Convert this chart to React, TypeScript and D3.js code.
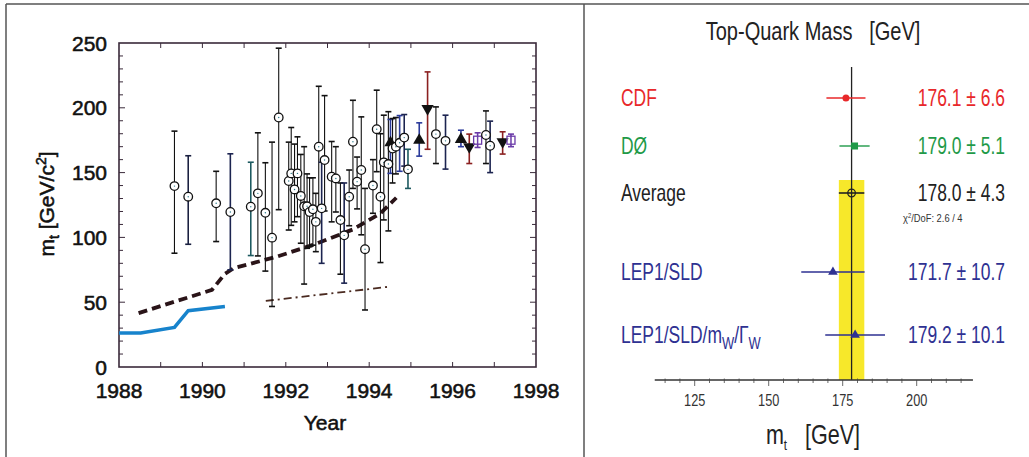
import React, { useEffect, useRef } from "react";
import * as d3 from "d3";

// ---- left panel: top mass measurements / limits vs year ----
const years = [
  1989.33, 1989.66, 1990.33, 1990.67, 1991.16, 1991.33, 1991.51, 1991.67, 1991.83,
  1992.07, 1992.13, 1992.21, 1992.28, 1992.36, 1992.44, 1992.51, 1992.57, 1992.65,
  1992.72, 1992.79, 1992.86, 1992.93, 1993.1, 1993.2, 1993.31, 1993.4, 1993.52,
  1993.61, 1993.71, 1993.81, 1993.9, 1994.09, 1994.18, 1994.27, 1994.35, 1994.46,
  1994.51, 1994.56, 1994.64, 1994.73, 1994.84, 1994.93, 1995.2, 1995.4, 1995.6,
  1995.83, 1996.2, 1996.4, 1996.6, 1996.8, 1996.9, 1997.2, 1997.4,
];
const masses = [
  139.6, 131.4, 126.3, 119.6, 123.7, 134, 119, 99.8, 192.5,
  143.5, 149.4, 137, 149.4, 132, 124, 124, 119.6, 121.7,
  112, 170, 122.4, 159.7, 146.8, 145.5, 113.4, 101.6, 131.4,
  173.8, 143, 152, 90.9, 140, 183.5, 131.4, 157.9, 156.6,
  173, 168.6, 170, 173, 177, 152.5, 175, 199.4, 179.7,
  174.5, 175.6, 170, 175, 179, 170.7, 173.8, 175,
];
const errHigh = [
  182, 163, 151, 164.5, 158, 180.7, 157.6, 173.5, 246,
  173.5, 184.8, 172, 177.6, 164, 170, 149, 146, 146,
  134, 216.6, 158, 209.4, 174, 170, 142, 142, 152,
  205.8, 162, 193, 137.8, 160, 213.6, 180, 194.3, 197,
  191, 191.7, 192.5, 194, 194.8, 168, 188.4, 227.7, 200.7,
  194.3, 182.7, 179.7, 180.7, 197.6, 189.7, 181.5, 179.7,
];
const errLow = [
  87.8, 94.7, 96.8, 75, 86, 85.7, 74, 46.7, 121.4,
  105.7, 109.3, 112, 116, 95.5, 64, 91.6, 93, 94,
  89, 121.7, 80, 120.4, 112, 119.6, 71.6, 64.7, 109,
  137.8, 122, 102, 44, 118.6, 150.7, 80.6, 113.5, 105,
  149.4, 142, 149, 151, 155, 137.8, 162.7, 168, 157,
  152.7, 170, 157, 169.4, 157, 150, 164.3, 170,
];
// o = open circle, u = triangle up, d = triangle down, s = open square
const markers = [
  "o", "o", "o", "o", "o", "o", "o", "o", "o",
  "o", "o", "o", "o", "o", "o", "o", "o", "o",
  "o", "o", "o", "o", "o", "o", "o", "o", "o",
  "o", "o", "o", "o", "o", "o", "o", "o", "o",
  "u", "o", "o", "o", "o", "o", "u", "d", "o",
  "o", "u", "d", "s", "o", "o", "d", "s",
];
const barColors = [
  "#111", "#1a2040", "#111", "#1c2450", "#1d5a60", "#111", "#111", "#111", "#111",
  "#111", "#111", "#111", "#111", "#111", "#111", "#111", "#111", "#111",
  "#111", "#111", "#1c2450", "#111", "#111", "#111", "#111", "#1c2450", "#111",
  "#111", "#111", "#111", "#111", "#111", "#111", "#111", "#111", "#111",
  "#2a3a9a", "#111", "#111", "#2a3a9a", "#1c2450", "#1d5a60", "#2a3a9a", "#8b2020", "#111",
  "#1c2450", "#2a3a9a", "#8b2020", "#6a3aa8", "#111", "#1c2450", "#8b2020", "#6a3aa8",
];

// lower limits (curves)
const limitBlueYears = [1988, 1988.52, 1989.33, 1989.66, 1990.54];
const limitBlueMass = [26.2, 26.2, 30.5, 43.4, 46.7];
const limitDashYears = [1988.47, 1990.23, 1990.54, 1990.75, 1991.79, 1992.65, 1993.6, 1994.27, 1994.65];
const limitDashMass = [41.6, 59.5, 71.9, 76.2, 85.2, 94.2, 106, 118.6, 130.6];
const limitDotYears = [1991.52, 1994.5];
const limitDotMass = [51, 62];

const yTicks = [0, 50, 100, 150, 200, 250];
const xTicks = [1988, 1990, 1992, 1994, 1996, 1998];

// ---- right panel: top-quark mass summary ----
const expNames = ["CDF", "DØ", "Average", "LEP1/SLD", "LEP1/SLD/mW/ΓW"];
const expValues = [176.1, 179.0, 178.0, 171.7, 179.2];
const expErrors = [6.6, 5.1, 4.3, 10.7, 10.1];
const expColors = ["#e8282a", "#1f9a48", "#222222", "#2e3192", "#2e3192"];
const expMarkers = ["dot", "square", "open", "tri", "tri"];
const massTicks = [125, 150, 175, 200];
const averageValue = 178.0;
const averageError = 4.3;

const sans = "'Liberation Sans', Arial, Helvetica, sans-serif";
const SX = 0.76; // horizontal squeeze to imitate the condensed face

type G = d3.Selection<SVGGElement, unknown, null, undefined>;

// condensed text: placed with a transform so it can be squeezed horizontally
function ctext(g: G, x: number, y: number, size: number, fill: string, anchor = "start", sx = SX) {
  return g.append("text")
    .attr("transform", `translate(${x},${y}) scale(${sx},1)`)
    .attr("text-anchor", anchor)
    .attr("font-family", sans)
    .attr("font-size", size)
    .attr("fill", fill);
}

export default function App() {
  const ref = useRef<SVGSVGElement>(null);

  useEffect(() => {
    const svg = d3.select(ref.current);
    svg.selectAll("*").remove();

    // outer frame
    const frame = svg.append("g").attr("stroke", "#555").attr("stroke-width", 1.5);
    frame.append("line").attr("x1", 6).attr("x2", 1029).attr("y1", 4).attr("y2", 4);
    frame.append("line").attr("x1", 6).attr("x2", 6).attr("y1", 4).attr("y2", 457);
    frame.append("line").attr("x1", 584).attr("x2", 584).attr("y1", 4).attr("y2", 457);

    // ================= left panel =================
    const x = d3.scaleLinear().domain([1988, 1998]).range([119, 536]);
    const y = d3.scaleLinear().domain([0, 250]).range([367, 43]);
    const left = svg.append("g");
    const axisColor = "#3a2a3a";

    // ticks: bottom/top every year, left/right every 10
    d3.range(1989, 1998).forEach((yr) => {
      left.append("line").attr("x1", x(yr)).attr("x2", x(yr)).attr("y1", y(0)).attr("y2", y(0) - 5)
        .attr("stroke", axisColor).attr("stroke-width", 1);
      left.append("line").attr("x1", x(yr)).attr("x2", x(yr)).attr("y1", y(250)).attr("y2", y(250) + 5)
        .attr("stroke", axisColor).attr("stroke-width", 1);
    });
    d3.range(10, 250, 10).forEach((m) => {
      const len = m % 50 === 0 ? 6 : 4;
      left.append("line").attr("x1", x(1988)).attr("x2", x(1988) + len).attr("y1", y(m)).attr("y2", y(m))
        .attr("stroke", axisColor).attr("stroke-width", 1);
      left.append("line").attr("x1", x(1998)).attr("x2", x(1998) - len).attr("y1", y(m)).attr("y2", y(m))
        .attr("stroke", axisColor).attr("stroke-width", 1);
    });
    left.append("rect").attr("x", x(1988)).attr("y", y(250))
      .attr("width", x(1998) - x(1988)).attr("height", y(0) - y(250))
      .attr("fill", "none").attr("stroke", axisColor).attr("stroke-width", 1.6);

    const labelStyle = (t: d3.Selection<any, any, any, any>, size: number) =>
      t.attr("font-family", sans).attr("font-size", size).attr("fill", "#111")
        .attr("stroke", "#111").attr("stroke-width", 0.55);

    labelStyle(left.selectAll(".ytl").data(yTicks).join("text")
      .attr("x", x(1988) - 12).attr("y", (d) => y(d) + 7.5)
      .attr("text-anchor", "end").text((d) => d), 21);
    labelStyle(left.selectAll(".xtl").data(xTicks).join("text")
      .attr("x", (d) => x(d)).attr("y", y(0) + 31)
      .attr("text-anchor", "middle").text((d) => d), 21);

    labelStyle(left.append("text").attr("x", 325).attr("y", 430).attr("text-anchor", "middle")
      .text("Year"), 21);

    const yl = labelStyle(left.append("text").attr("transform", "translate(54,204) rotate(-90)")
      .attr("text-anchor", "middle"), 21);
    yl.append("tspan").text("m");
    yl.append("tspan").attr("dy", 5).attr("font-size", 14).text("t");
    yl.append("tspan").attr("dy", -5).text(" [GeV/c");
    yl.append("tspan").attr("dy", -8).attr("font-size", 14).text("2");
    yl.append("tspan").attr("dy", 8).text("]");

    // limit curves
    const line = d3.line<[number, number]>().x((d) => x(d[0])).y((d) => y(d[1]));
    left.append("path").attr("d", line(d3.zip(limitBlueYears, limitBlueMass) as [number, number][]))
      .attr("fill", "none").attr("stroke", "#1783cc").attr("stroke-width", 3.5);
    left.append("path").attr("d", line(d3.zip(limitDashYears, limitDashMass) as [number, number][]))
      .attr("fill", "none").attr("stroke", "#2a1418").attr("stroke-width", 3.8)
      .attr("stroke-dasharray", "9 5");
    left.append("path").attr("d", line(d3.zip(limitDotYears, limitDotMass) as [number, number][]))
      .attr("fill", "none").attr("stroke", "#4a2a20").attr("stroke-width", 1.8)
      .attr("stroke-dasharray", "8 4 2 4");

    // error bars
    const pts = years.map((yr, i) => ({
      yr, m: masses[i], hi: errHigh[i], lo: errLow[i], mk: markers[i], c: barColors[i],
    }));
    const eb = left.append("g");
    pts.forEach((p) => {
      const w = p.c === "#111" ? 1.1 : 1.6;
      eb.append("line").attr("x1", x(p.yr)).attr("x2", x(p.yr)).attr("y1", y(p.hi)).attr("y2", y(p.lo))
        .attr("stroke", p.c).attr("stroke-width", w);
      [p.hi, p.lo].forEach((v) => {
        eb.append("line").attr("x1", x(p.yr) - 3).attr("x2", x(p.yr) + 3).attr("y1", y(v)).attr("y2", y(v))
          .attr("stroke", p.c).attr("stroke-width", 1.6);
      });
    });

    // markers
    const mk = left.append("g");
    pts.forEach((p) => {
      const cx = x(p.yr), cy = y(p.m);
      if (p.mk === "o") {
        mk.append("circle").attr("cx", cx).attr("cy", cy).attr("r", 4.3)
          .attr("fill", "#fff").attr("stroke", "#111").attr("stroke-width", 1.3);
        mk.append("circle").attr("cx", cx).attr("cy", cy).attr("r", 0.7).attr("fill", "#2a7a8a");
      } else if (p.mk === "u" || p.mk === "d") {
        mk.append("path").attr("d", d3.symbol().type(d3.symbolTriangle).size(65)())
          .attr("transform", `translate(${cx},${cy}) rotate(${p.mk === "d" ? 180 : 0})`)
          .attr("fill", "#111");
      } else {
        mk.append("rect").attr("x", cx - 4).attr("y", cy - 4).attr("width", 8).attr("height", 8)
          .attr("fill", "#fff").attr("fill-opacity", 0.4).attr("stroke", p.c).attr("stroke-width", 1.3);
        mk.append("line").attr("x1", cx).attr("x2", cx).attr("y1", cy - 4).attr("y2", cy + 4)
          .attr("stroke", p.c).attr("stroke-width", 1);
      }
    });

    // ================= right panel =================
    const mx = d3.scaleLinear().domain([175, 200]).range([842.7, 916.7]);
    const rowY = d3.scaleOrdinal<string, number>().domain(expNames).range([98, 146, 193, 272, 335]);
    const axisY = 380;
    const right = svg.append("g") as G;

    ctext(right, 813, 40, 26, "#222", "middle", 0.77)
      .attr("xml:space", "preserve").text("Top-Quark Mass   [GeV]");

    // average band
    right.append("rect").attr("x", mx(averageValue - averageError)).attr("y", 180)
      .attr("width", mx(averageValue + averageError) - mx(averageValue - averageError))
      .attr("height", axisY - 180).attr("fill", "#f7e82a");
    right.append("line").attr("x1", mx(averageValue)).attr("x2", mx(averageValue))
      .attr("y1", 67).attr("y2", axisY).attr("stroke", "#222").attr("stroke-width", 1.3);

    // axis
    right.append("line").attr("x1", mx(111.5)).attr("x2", mx(219)).attr("y1", axisY).attr("y2", axisY)
      .attr("stroke", "#333").attr("stroke-width", 1.6);
    d3.range(115, 220, 5).forEach((m) => {
      const major = m % 25 === 0;
      right.append("line").attr("x1", mx(m)).attr("x2", mx(m))
        .attr("y1", axisY - (major ? 0 : 1.5)).attr("y2", axisY + (major ? 6 : 3))
        .attr("stroke", "#444").attr("stroke-width", 0.8);
    });
    massTicks.forEach((t) => {
      ctext(right, mx(t), axisY + 26, 17, "#333", "middle", 0.75).text(t);
    });
    const xl = ctext(right, 813, 444, 28, "#222", "middle", 0.77);
    xl.append("tspan").text("m");
    xl.append("tspan").attr("dy", 6).attr("font-size", 15).text("t");
    xl.append("tspan").attr("dy", -6).attr("xml:space", "preserve").text("   [GeV]");

    expNames.forEach((name, i) => {
      const cy = rowY(name);
      const c = expColors[i];
      const v = expValues[i];
      const e = expErrors[i];
      right.append("line").attr("x1", mx(v - e)).attr("x2", mx(v + e)).attr("y1", cy).attr("y2", cy)
        .attr("stroke", c).attr("stroke-width", i === 2 ? 1.6 : 1.4);
      if (expMarkers[i] === "dot") {
        right.append("circle").attr("cx", mx(v)).attr("cy", cy).attr("r", 3.5).attr("fill", c);
      } else if (expMarkers[i] === "square") {
        right.append("rect").attr("x", mx(v) - 3.5).attr("y", cy - 3.5).attr("width", 7).attr("height", 7).attr("fill", c);
      } else if (expMarkers[i] === "open") {
        right.append("circle").attr("cx", mx(v)).attr("cy", cy).attr("r", 3.8)
          .attr("fill", "none").attr("stroke", c).attr("stroke-width", 1.3);
      } else {
        right.append("path").attr("d", d3.symbol().type(d3.symbolTriangle).size(40)())
          .attr("transform", `translate(${mx(v)},${cy})`).attr("fill", c);
      }

      // label
      const lab = ctext(right, 621, cy + 8, 23, c);
      if (name.includes("mW")) {
        lab.append("tspan").text("LEP1/SLD/m");
        lab.append("tspan").attr("dy", 6).attr("font-size", 17).text("W");
        lab.append("tspan").attr("dy", -6).text("/Γ");
        lab.append("tspan").attr("dy", 6).attr("font-size", 17).text("W");
      } else {
        lab.text(name);
      }
      ctext(right, 1005, cy + 8, 23, c, "end").text(`${v.toFixed(1)} ± ${e.toFixed(1)}`);
    });

    const chi = ctext(right, 903, 222, 11, "#333", "start", 0.85);
    chi.append("tspan").text("χ");
    chi.append("tspan").attr("dy", -4).attr("font-size", 7).text("2");
    chi.append("tspan").attr("dy", 4).text("/DoF: 2.6 / 4");
  }, []);

  return (
    <svg
      ref={ref}
      width={1029}
      height={457}
      style={{ position: "absolute", left: 0, top: 0, background: "#fff" }}
    />
  );
}
